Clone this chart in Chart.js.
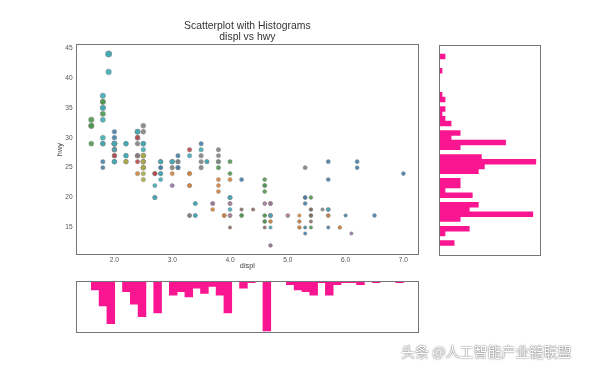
<!DOCTYPE html>
<html>
<head>
<meta charset="utf-8">
<title>Scatterplot with Histograms</title>
<script src="https://cdn.jsdelivr.net/npm/chart.js@4.4.0/dist/chart.umd.min.js"></script>
<style>
  html, body { margin: 0; padding: 0; background: #fff; }
  #wrap { position: relative; width: 600px; height: 375px; overflow: hidden; }
  canvas { position: absolute; }
  #main { left: 0; top: 0; }
  #right { left: 430px; top: 0; }
  #bottom { left: 0; top: 270px; }
  #mark {
    position: absolute; left: 401px; top: 341px;
    font: 14px "Noto Sans CJK SC", sans-serif; color: #fff;
    text-shadow: 0 0 2px rgba(0,0,0,0.55), 0 0 1px rgba(0,0,0,0.5);
    white-space: nowrap;
  }
</style>
</head>
<body>
<div id="wrap">
  <canvas id="main" width="430" height="270"></canvas>
  <canvas id="right" width="120" height="270"></canvas>
  <canvas id="bottom" width="430" height="75"></canvas>
  <div id="mark">头条 @人工智能产业链联盟</div>
</div>
<script>
/* =============================================
   mpg: displ vs hwy, with marginal histograms
   ============================================= */

// one entry per car, in dataset order (audi ... volkswagen)
const displ = [
  1.8,1.8,2.0,2.0,2.8,2.8,3.1,1.8,1.8,2.0,2.0,2.8,2.8,3.1,3.1,2.8,3.1,4.2,
  5.3,5.3,5.3,5.7,6.0,5.7,5.7,6.2,6.2,7.0,5.3,5.3,5.7,6.5,2.4,2.4,3.1,3.5,3.6,
  2.4,3.0,3.3,3.3,3.3,3.3,3.3,3.8,3.8,3.8,4.0,3.7,3.7,3.9,3.9,4.7,4.7,4.7,5.2,5.2,
  3.9,4.7,4.7,4.7,5.2,5.9,5.7,4.7,4.7,4.7,4.7,4.7,4.7,5.2,5.2,5.7,5.9,
  4.6,5.4,5.4,4.0,4.0,4.0,4.0,4.6,5.0,4.2,4.2,4.6,4.6,4.6,5.4,5.4,3.8,3.8,4.0,4.0,4.6,4.6,4.6,4.6,5.4,
  1.6,1.6,1.6,1.6,1.6,1.8,1.8,1.8,2.0,
  2.4,2.4,2.4,2.4,2.5,2.5,3.3,2.0,2.0,2.0,2.0,2.7,2.7,2.7,
  3.0,3.7,4.0,4.7,4.7,4.7,5.7,6.1,
  4.0,4.2,4.4,4.6,
  5.4,5.4,5.4,
  4.0,4.0,4.6,5.0,
  2.4,2.4,2.5,2.5,3.5,3.5,3.0,3.0,3.5,3.3,3.3,4.0,5.6,
  3.1,3.8,3.8,3.8,5.3,
  2.5,2.5,2.5,2.5,2.5,2.5,2.2,2.2,2.5,2.5,2.5,2.5,2.5,2.5,
  2.7,2.7,3.4,3.4,4.0,4.7,2.2,2.2,2.4,2.4,3.0,3.0,3.5,2.2,2.2,2.4,2.4,3.0,3.0,3.3,
  1.8,1.8,1.8,1.8,1.8,4.7,5.7,2.7,2.7,2.7,3.4,3.4,4.0,4.0,
  2.0,2.0,2.0,2.0,2.8,1.9,2.0,2.0,2.0,2.0,2.5,2.5,2.8,2.8,1.9,1.9,2.0,2.0,2.5,2.5,
  1.8,1.8,2.0,2.0,2.8,2.8,3.6
];
const hwy = [
  29,29,31,30,26,26,27,26,25,28,27,25,25,25,25,24,25,23,
  20,15,20,17,17,26,23,26,25,24,19,14,15,17,27,30,26,29,26,
  24,24,22,22,24,24,17,22,21,23,23,19,18,17,17,19,19,12,17,15,
  17,17,12,17,16,15,18,16,12,17,17,16,12,15,16,17,15,
  17,17,18,17,19,17,19,19,17,17,17,16,16,17,15,17,26,25,26,24,21,22,23,22,20,
  33,32,32,29,32,34,36,36,29,
  26,27,30,31,26,26,28,26,29,28,27,24,24,24,
  22,19,20,17,12,19,18,14,
  15,18,18,15,
  17,16,18,
  17,19,19,17,
  29,27,31,32,27,26,26,25,25,17,17,20,18,
  26,26,27,28,25,
  25,24,27,25,26,23,26,26,26,26,25,27,25,27,
  20,20,19,17,20,17,29,27,31,31,26,26,28,27,29,31,31,26,26,27,
  30,33,35,37,35,15,18,20,20,22,17,19,18,20,
  29,26,29,29,24,44,29,26,29,29,29,29,23,24,44,41,29,26,28,29,
  29,29,28,29,26,26,26
];
const cty = [
  18,21,20,21,16,18,18,18,16,20,19,15,17,17,15,15,17,16,
  14,11,14,13,12,16,15,16,15,15,14,11,11,14,19,22,18,18,17,
  18,17,16,16,17,17,11,15,15,16,16,15,14,13,14,14,14,9,11,11,
  13,13,9,13,11,11,13,12,9,13,13,12,9,11,11,13,11,
  11,11,12,14,15,14,13,13,13,14,14,13,13,13,11,13,18,18,17,16,15,15,15,15,14,
  28,24,25,23,24,26,25,24,21,
  18,18,21,21,18,18,19,19,19,20,20,17,16,17,
  17,15,15,14,9,14,13,11,
  11,12,12,11,
  11,11,12,
  14,13,13,13,
  21,19,23,23,19,19,18,19,19,14,15,14,12,
  18,16,17,18,16,
  18,18,20,19,20,18,21,19,19,19,20,20,19,20,
  15,16,15,15,16,14,21,21,21,21,18,18,19,21,21,21,22,18,18,18,
  24,24,26,28,26,11,13,15,16,17,15,15,15,16,
  21,19,21,22,17,33,21,19,22,21,21,21,16,17,35,29,21,19,20,20,
  21,18,19,21,16,18,17
];
// manufacturer category code (alphabetical, 0 = audi ... 14 = volkswagen)
const maker = [
  0,0,0,0,0,0,0,0,0,0,0,0,0,0,0,0,0,0,
  1,1,1,1,1,1,1,1,1,1,1,1,1,1,1,1,1,1,1,
  2,2,2,2,2,2,2,2,2,2,2,2,2,2,2,2,2,2,2,2,
  2,2,2,2,2,2,2,2,2,2,2,2,2,2,2,2,2,
  3,3,3,3,3,3,3,3,3,3,3,3,3,3,3,3,3,3,3,3,3,3,3,3,3,
  4,4,4,4,4,4,4,4,4,
  5,5,5,5,5,5,5,5,5,5,5,5,5,5,
  6,6,6,6,6,6,6,6,
  7,7,7,7,
  8,8,8,
  9,9,9,9,
  10,10,10,10,10,10,10,10,10,10,10,10,10,
  11,11,11,11,11,
  12,12,12,12,12,12,12,12,12,12,12,12,12,12,
  13,13,13,13,13,13,13,13,13,13,13,13,13,13,13,13,13,13,13,13,
  13,13,13,13,13,13,13,13,13,13,13,13,13,13,
  14,14,14,14,14,14,14,14,14,14,14,14,14,14,14,14,14,14,14,14,
  14,14,14,14,14,14,14
];

// histogram counts, 40 bins each
const hwyCounts = [5,0,2,10,0,7,31,10,13,0, 11,2,7,7,0,13,15,32,14,0,
                   7,22,4,7,0,4,2,1,2,0, 2,1,0,0,0,0,1,0,0,2];
const displCounts = [5,14,24,0,6,13,20,0,18,0, 8,6,9,4,7,3,8,18,0,4,
                     1,0,28,0,0,2,5,6,8,1, 8,2,1,1,2,0,1,0,0,1];
const hwyRange = [12, 44];
const displRange = [1.6, 7.0];

const xTicks = [2, 3, 4, 5, 6, 7];
const yTicks = [15, 20, 25, 30, 35, 40, 45];

const tab10 = ['#1f77b4', '#ff7f0e', '#2ca02c', '#d62728', '#9467bd',
               '#8c564b', '#e377c2', '#7f7f7f', '#bcbd22', '#17becf'];
const PINK = '#fa1690';
const FONT = '"Liberation Sans", Arial, sans-serif';
const xMin = 1.33, xMax = 7.27, yMin = 10.4, yMax = 45.6;

// codes 0..14 squeezed onto the 10-colour map, like cmap(code / 14),
// then toned down toward the grey marker edge
function makerColor(code) {
  const idx = Math.min(9, Math.floor(code / 14 * 10 + 1e-9));
  const h = tab10[idx];
  const mix = v => Math.round(parseInt(v, 16) * 0.65 + 136 * 0.35);
  return `rgba(${mix(h.slice(1, 3))},${mix(h.slice(3, 5))},${mix(h.slice(5, 7))},0.9)`;
}

function binCenters(range, n) {
  const w = (range[1] - range[0]) / n;
  return Array.from({ length: n }, (_, i) => range[0] + (i + 0.5) * w);
}

// full box around the plot area
const frame = {
  id: 'frame',
  afterDraw(chart) {
    const { ctx, chartArea: a } = chart;
    ctx.save();
    ctx.strokeStyle = '#777';
    ctx.lineWidth = 1;
    ctx.strokeRect(Math.round(a.left) + 0.5, Math.round(a.top) + 0.5,
                   Math.round(a.width) - 1, Math.round(a.height) - 1);
    ctx.restore();
  }
};

const base = {
  responsive: false,
  animation: false,
  devicePixelRatio: 1,
  events: [],
  plugins: { legend: { display: false }, tooltip: { enabled: false } }
};

// ---- main scatter ----
new Chart(document.getElementById('main'), {
  type: 'scatter',
  data: {
    datasets: [{
      data: displ.map((x, i) => ({ x, y: hwy[i] })),
      backgroundColor: c => makerColor(maker[c.dataIndex]),
      borderColor: 'rgba(140,140,140,0.9)',
      borderWidth: 0.5,
      pointRadius: c => Math.sqrt(cty[c.dataIndex]) * 0.52
    }]
  },
  options: {
    ...base,
    layout: { padding: { left: 0, top: 0, right: 11, bottom: 0 } },
    plugins: {
      ...base.plugins,
      title: {
        display: true,
        fullSize: false,
        text: ['Scatterplot with Histograms', 'displ vs hwy'],
        color: '#333',
        font: { family: FONT, size: 10.4, weight: 'normal', lineHeight: 1.1 },
        padding: { top: 20, bottom: 1.5 }
      }
    },
    scales: {
      x: {
        type: 'linear', min: xMin, max: xMax,
        afterFit: s => { s.height = 15; },
        afterBuildTicks: s => { s.ticks = xTicks.map(v => ({ value: v })); },
        grid: { display: false, drawTicks: false },
        border: { display: false },
        ticks: { padding: 1, color: '#555', font: { family: FONT, size: 6.6 }, callback: v => v.toFixed(1) },
        title: { display: true, text: 'displ', color: '#444', padding: 0, font: { family: FONT, size: 7.3 } }
      },
      y: {
        type: 'linear', min: yMin, max: yMax,
        afterFit: s => { s.width = 75.7; },
        afterBuildTicks: s => { s.ticks = yTicks.map(v => ({ value: v })); },
        grid: { display: false, drawTicks: false },
        border: { display: false },
        ticks: { padding: 3, color: '#555', font: { family: FONT, size: 6.6 } },
        title: { display: true, text: 'hwy', color: '#444', padding: { top: 55.6, bottom: 0 }, font: { family: FONT, size: 7.3 } }
      }
    }
  },
  plugins: [frame]
});

// ---- right: hwy histogram (horizontal) ----
const hwyMid = binCenters(hwyRange, hwyCounts.length);
new Chart(document.getElementById('right'), {
  type: 'bar',
  data: {
    datasets: [{
      data: hwyCounts.map((n, i) => ({ x: n, y: hwyMid[i] })),
      backgroundColor: PINK,
      borderWidth: 0,
      barPercentage: 1,
      categoryPercentage: 1
    }]
  },
  options: {
    ...base,
    indexAxis: 'y',
    layout: { padding: { left: 9, top: 44.5, right: 9.3, bottom: 15 } },
    scales: {
      x: { type: 'linear', min: 0, max: 33.6, display: false },
      y: { type: 'linear', min: yMin, max: yMax, offset: false, display: false }
    }
  },
  plugins: [frame]
});

// ---- bottom: displ histogram (hanging down) ----
const displMid = binCenters(displRange, displCounts.length);
new Chart(document.getElementById('bottom'), {
  type: 'bar',
  data: {
    datasets: [{
      data: displCounts.map((n, i) => ({ x: displMid[i], y: n })),
      backgroundColor: PINK,
      borderWidth: 0,
      barPercentage: 1,
      categoryPercentage: 1
    }]
  },
  options: {
    ...base,
    layout: { padding: { left: 75.7, top: 11, right: 11, bottom: 11.7 } },
    scales: {
      x: { type: 'linear', min: xMin, max: xMax, offset: false, display: false },
      y: { type: 'linear', min: 0, max: 29.4, reverse: true, display: false }
    }
  },
  plugins: [frame]
});
</script>
</body>
</html>
